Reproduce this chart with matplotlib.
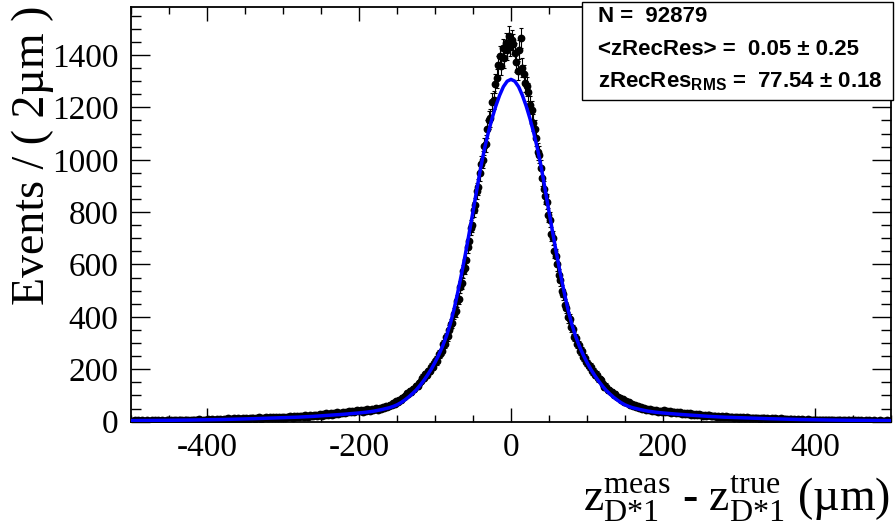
import numpy as np
import matplotlib
matplotlib.use('Agg')
import matplotlib.pyplot as plt
from matplotlib.patches import Rectangle

plt.rcParams['axes.unicode_minus'] = False
plt.rcParams['mathtext.fontset'] = 'custom'
plt.rcParams['mathtext.rm'] = 'Liberation Serif'
plt.rcParams['mathtext.it'] = 'Liberation Serif:italic'
plt.rcParams['mathtext.bf'] = 'Liberation Serif:bold'
plt.rcParams['mathtext.sf'] = 'Liberation Sans:bold'

# histogram: 500 bins of 2 um from -500 to 500
bin_lo = -500
bin_hi = 500
bin_w = 2

counts = [
    4, 2, 5, 3, 6, 4, 3, 5, 2, 4,
    5, 3, 4, 6, 2, 5, 4, 7, 3, 4,
    6, 4, 3, 5, 7, 4, 5, 3, 6, 5,
    4, 7, 5, 6, 3, 8, 5, 6, 4, 7,
    6, 8, 5, 7, 9, 6, 4, 8, 7, 6,
    9, 7, 6, 10, 8, 5, 9, 7, 11, 8,
    7, 10, 9, 12, 8, 11, 9, 13, 10, 8,
    12, 9, 11, 14, 10, 13, 11, 9, 15, 12,
    13, 11, 15, 12, 16, 10, 14, 13, 17, 12,
    15, 18, 13, 16, 14, 19, 15, 17, 12, 18,
    17, 14, 19, 16, 21, 18, 15, 20, 17, 22,
    18, 22, 20, 17, 24, 21, 19, 25, 22, 20,
    24, 27, 21, 26, 29, 23, 28, 25, 31, 26,
    29, 32, 27, 33, 30, 35, 28, 34, 31, 36,
    33, 38, 35, 40, 36, 42, 37, 39, 44, 41,
    40, 43, 37, 45, 42, 47, 44, 41, 49, 46,
    47, 51, 46, 53, 50, 56, 52, 58, 55, 61,
    65, 62, 71, 69, 77, 75, 84, 83, 92, 94,
    98, 108, 105, 116, 114, 125, 124, 137, 136, 147,
    156, 167, 168, 180, 179, 192, 194, 208, 210, 224,
    236, 231, 258, 259, 270, 295, 298, 322, 326, 351,
    372, 378, 412, 421, 461, 470, 515, 528, 574, 588,
    619, 668, 688, 741, 752, 809, 826, 881, 897, 951,
    983, 1001, 1052, 1061, 1118, 1152, 1160, 1221, 1229, 1290,
    1312, 1361, 1398, 1359, 1425, 1388, 1447, 1419, 1472, 1436,
    1458, 1441, 1409, 1372, 1340, 1421, 1466, 1351, 1327, 1294,
    1281, 1258, 1209, 1190, 1142, 1117, 1085, 1031, 1019, 968,
    931, 889, 861, 840, 789, 771, 718, 702, 652, 633,
    601, 558, 541, 499, 486, 447, 435, 398, 391, 360,
    352, 324, 318, 297, 291, 270, 268, 247, 244, 226,
    219, 211, 208, 193, 190, 179, 178, 165, 161, 159,
    144, 133, 134, 121, 122, 112, 113, 103, 106, 95,
    93, 92, 84, 85, 76, 79, 70, 73, 64, 66,
    61, 63, 55, 58, 51, 54, 48, 52, 45, 47,
    45, 48, 41, 45, 40, 43, 38, 42, 40, 36,
    43, 37, 40, 35, 39, 33, 37, 36, 32, 35,
    31, 35, 30, 33, 28, 32, 29, 31, 26, 30,
    27, 29, 25, 28, 24, 27, 23, 26, 22, 25,
    24, 21, 23, 20, 22, 19, 21, 18, 20, 19,
    18, 20, 17, 19, 16, 18, 15, 17, 16, 14,
    17, 14, 16, 13, 15, 16, 12, 15, 14, 13,
    12, 15, 13, 11, 14, 12, 13, 10, 12, 11,
    11, 13, 10, 12, 9, 11, 10, 12, 9, 10,
    9, 11, 8, 10, 9, 7, 10, 8, 9, 7,
    8, 9, 7, 8, 6, 9, 7, 8, 6, 7,
    6, 8, 7, 5, 7, 6, 8, 5, 6, 7,
    5, 6, 7, 4, 6, 5, 6, 4, 5, 6,
    4, 6, 5, 3, 5, 4, 6, 4, 5, 3,
    5, 4, 3, 5, 4, 6, 3, 4, 5, 3,
    4, 3, 5, 2, 4, 3, 4, 5, 3, 4,
]

# fitted curve
fit_x = [-500, -480, -460, -440, -420, -400, -380, -360, -340, -320,
         -300, -280, -260, -240, -220, -200, -190, -180, -170, -160,
         -155, -150, -145, -140, -135, -130, -125, -120, -115, -110,
         -105, -100, -95, -90, -85, -80, -75, -70, -65, -60,
         -55, -50, -45, -40, -35, -30, -25, -20, -15, -10,
         -5, 0, 5, 10, 15, 20, 25, 30, 35, 40,
         45, 50, 55, 60, 65, 70, 75, 80, 85, 90,
         95, 100, 105, 110, 115, 120, 125, 130, 135, 140,
         145, 150, 155, 160, 170, 180, 190, 200, 220, 240,
         260, 280, 300, 320, 340, 360, 380, 400, 420, 440,
         460, 480, 500]
fit_y = [3.8, 4.2, 4.7, 5.3, 6.0, 7.0, 8.0, 9.5, 11, 13,
         15, 17, 20, 24, 28, 33, 36, 40, 46, 53,
         58, 64, 72, 82, 93, 106, 120, 137, 156, 177,
         200, 226, 255, 288, 326, 372, 428, 494, 565, 640,
         720, 802, 886, 968, 1040, 1102, 1157, 1205, 1246, 1279,
         1300, 1307, 1300, 1279, 1246, 1205, 1157, 1102, 1040, 968,
         886, 802, 720, 640, 565, 494, 428, 372, 326, 288,
         255, 226, 200, 177, 156, 137, 120, 106, 93, 82,
         72, 64, 58, 53, 46, 40, 36, 33, 28, 24,
         20, 17, 15, 13, 11, 9.5, 8.0, 7.0, 6.0, 5.3,
         4.7, 4.2, 3.8]

stat_lines = ['N =  92879',
              '<zRecRes> =  0.05 ± 0.25',
              'zRecRes$_{\\mathsf{RMS}}$ =  77.54 ± 0.18']

xticks = [-400, -200, 0, 200, 400]
yticks = [0, 200, 400, 600, 800, 1000, 1200, 1400]

centers = np.arange(bin_lo + bin_w / 2, bin_hi, bin_w)
counts = np.array(counts, dtype=float)

fig = plt.figure(figsize=(8.96, 5.27), dpi=100)
ax = fig.add_axes([0.1462, 0.2, 0.8482, 0.7875])

ax.errorbar(centers, counts, yerr=np.sqrt(counts), fmt='o', color='black',
            ms=4.6, elinewidth=0.8, capsize=1.3, capthick=0.8, zorder=2)
ax.plot(fit_x, fit_y, color=(0, 0, 1), lw=2.5, zorder=3)

ax.set_xlim(-500, 500)
ax.set_ylim(0, 1585)
ax.set_xticks(xticks)
ax.set_xticklabels([str(t) for t in xticks])
ax.set_yticks(yticks)
ax.set_yticklabels([str(t) for t in yticks])
ax.set_xticks(np.arange(-500, 501, 50), minor=True)
ax.set_yticks(np.arange(0, 1585, 50), minor=True)

ax.tick_params(axis='both', which='both', direction='in', top=True, right=True,
               width=1.0, colors='black')
ax.tick_params(axis='x', which='major', length=10, pad=8)
ax.tick_params(axis='x', which='minor', length=5)
ax.tick_params(axis='y', which='major', length=14, pad=9)
ax.tick_params(axis='y', which='minor', length=7)
for lab in ax.get_xticklabels() + ax.get_yticklabels():
    lab.set_fontfamily('Liberation Serif')
    lab.set_fontsize(24)
for sp in ax.spines.values():
    sp.set_linewidth(1.3)

fig.text(0.037, 0.706, 'Events / ( 2µm )', rotation=90, fontsize=33,
         family='Liberation Serif', ha='center', va='center')
fig.text(0.993, 0.0285,
         r'$\mathrm{z}^{\mathrm{meas}}_{\mathrm{D{*}1}}$ - $\mathrm{z}^{\mathrm{true}}_{\mathrm{D{*}1}}$ (µm)',
         fontsize=33, family='Liberation Serif', ha='right', va='baseline')

# stats box
box = Rectangle((0.650, 0.810), 0.347, 0.186, transform=fig.transFigure,
                facecolor='white', edgecolor='black', lw=1.0, zorder=5)
fig.patches.append(box)
for s, yy in zip(stat_lines, [0.959, 0.895, 0.834]):
    fig.text(0.667, yy, s, fontsize=16, fontweight='bold',
             family='Liberation Sans', ha='left', va='baseline', zorder=6)

plt.savefig('out.png', dpi=100)
